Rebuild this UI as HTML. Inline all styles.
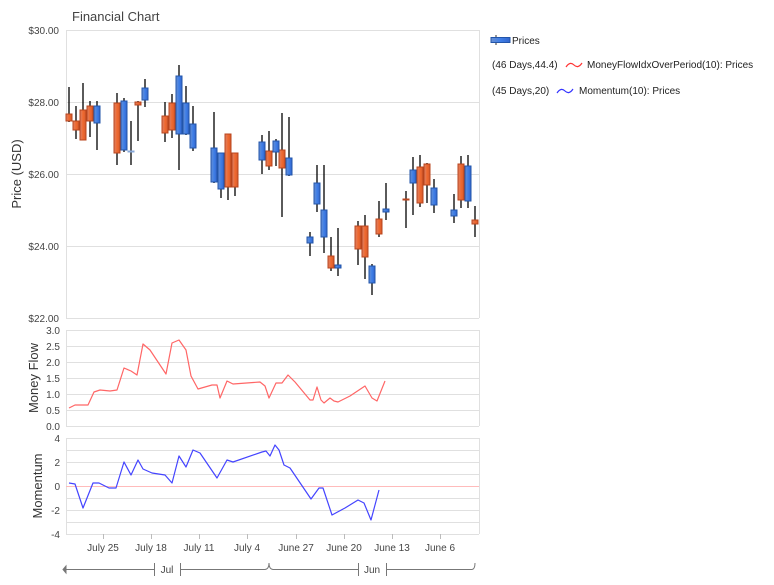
<!DOCTYPE html>
<html><head><meta charset="utf-8"><style>
body{margin:0;background:#fff;}
svg{display:block;font-family:"Liberation Sans",Arial,sans-serif;}
</style></head><body>
<svg width="774" height="585" viewBox="0 0 774 585" xmlns="http://www.w3.org/2000/svg">
<defs>
<linearGradient id="gr" x1="0" x2="1"><stop offset="0" stop-color="#d9826a"/><stop offset="0.5" stop-color="#f06a30"/><stop offset="1" stop-color="#d65a2c"/></linearGradient>
<linearGradient id="gb" x1="0" x2="1"><stop offset="0" stop-color="#6a8fd0"/><stop offset="0.5" stop-color="#3f7fe8"/><stop offset="1" stop-color="#3366cc"/></linearGradient>
</defs>
<text x="72" y="21" font-size="13" fill="#444">Financial Chart</text>
<g stroke="#e0e0e0" stroke-width="1">
<line x1="66" y1="30.5" x2="479" y2="30.5"/><line x1="66" y1="102.5" x2="479" y2="102.5"/><line x1="66" y1="174.5" x2="479" y2="174.5"/><line x1="66" y1="246.5" x2="479" y2="246.5"/><line x1="66" y1="318.5" x2="479" y2="318.5"/>
<line x1="66.5" y1="30" x2="66.5" y2="318"/><line x1="479.5" y1="30" x2="479.5" y2="318"/>
</g>
<g font-size="10" fill="#444" text-anchor="end">
<text x="59" y="34">$30.00</text><text x="59" y="106">$28.00</text><text x="59" y="178">$26.00</text><text x="59" y="250">$24.00</text><text x="59" y="322">$22.00</text>
</g>
<text transform="translate(21,174) rotate(-90)" font-size="13" fill="#333" text-anchor="middle">Price (USD)</text>
<g stroke="#000" stroke-width="1.3">
<line x1="69" y1="87" x2="69" y2="122"/><line x1="76" y1="106" x2="76" y2="139"/><line x1="83" y1="83" x2="83" y2="140"/><line x1="90" y1="101" x2="90" y2="137"/><line x1="97" y1="101" x2="97" y2="150"/>
<line x1="117" y1="93" x2="117" y2="165"/><line x1="124" y1="98" x2="124" y2="152"/><line x1="131" y1="121" x2="131" y2="165"/><line x1="138" y1="101" x2="138" y2="141"/><line x1="145" y1="79" x2="145" y2="107"/>
<line x1="165" y1="102" x2="165" y2="142"/><line x1="172" y1="94" x2="172" y2="138"/><line x1="179" y1="65" x2="179" y2="170"/><line x1="186" y1="86" x2="186" y2="135"/><line x1="193" y1="106" x2="193" y2="151"/>
<line x1="214" y1="112" x2="214" y2="183"/><line x1="221" y1="161" x2="221" y2="198"/><line x1="228" y1="134" x2="228" y2="200"/><line x1="235" y1="170" x2="235" y2="196"/>
<line x1="262" y1="135" x2="262" y2="174"/><line x1="269" y1="131" x2="269" y2="170"/><line x1="276" y1="139" x2="276" y2="166"/><line x1="282" y1="113" x2="282" y2="217"/><line x1="289" y1="117" x2="289" y2="176"/>
<line x1="310" y1="232" x2="310" y2="256"/><line x1="317" y1="165" x2="317" y2="212"/><line x1="324" y1="165" x2="324" y2="253"/><line x1="331" y1="237" x2="331" y2="271"/><line x1="338" y1="228" x2="338" y2="276"/>
<line x1="358" y1="221" x2="358" y2="265"/><line x1="365" y1="215" x2="365" y2="279"/><line x1="372" y1="264" x2="372" y2="295"/><line x1="379" y1="201" x2="379" y2="237"/><line x1="386" y1="183" x2="386" y2="220"/>
<line x1="406" y1="191" x2="406" y2="228"/><line x1="413" y1="157" x2="413" y2="215"/><line x1="420" y1="155" x2="420" y2="207"/><line x1="427" y1="163" x2="427" y2="203"/><line x1="434" y1="179" x2="434" y2="213"/>
<line x1="454" y1="194" x2="454" y2="223"/><line x1="461" y1="156" x2="461" y2="208"/><line x1="468" y1="155" x2="468" y2="208"/><line x1="475" y1="206" x2="475" y2="237"/>
</g>
<g fill="url(#gr)" stroke="#b8441c" stroke-width="1">
<rect x="66" y="114" width="6" height="7"/><rect x="73" y="121" width="6" height="9"/><rect x="80" y="110" width="6" height="30"/><rect x="87" y="106" width="6" height="15"/>
<rect x="114" y="103" width="6" height="50"/><rect x="135" y="102" width="6" height="3"/>
<rect x="162" y="116" width="6" height="17"/><rect x="169" y="103" width="6" height="27"/>
<rect x="225" y="134" width="6" height="53"/><rect x="232" y="153" width="6" height="34"/>
<rect x="266" y="151" width="6" height="15"/><rect x="279" y="150" width="6" height="18"/>
<rect x="328" y="256" width="6" height="12"/>
<rect x="355" y="226" width="6" height="23"/><rect x="362" y="226" width="6" height="31"/><rect x="376" y="219" width="6" height="15"/>
<rect x="403" y="199" width="6" height="1"/><rect x="417" y="167" width="6" height="36"/><rect x="424" y="164" width="6" height="21"/>
<rect x="458" y="164" width="6" height="36"/><rect x="472" y="220" width="6" height="4"/>
</g>
<g fill="url(#gb)" stroke="#2255aa" stroke-width="1">
<rect x="94" y="106" width="6" height="17"/><rect x="121" y="101" width="6" height="49"/><rect x="128" y="151" width="6" height="1" stroke="#88a8d8"/><rect x="142" y="88" width="6" height="12"/>
<rect x="176" y="76" width="6" height="58"/><rect x="183" y="103" width="6" height="31"/><rect x="190" y="124" width="6" height="24"/>
<rect x="211" y="148" width="6" height="34"/><rect x="218" y="153" width="6" height="36"/>
<rect x="259" y="142" width="6" height="18"/><rect x="273" y="141" width="6" height="11"/><rect x="286" y="158" width="6" height="17"/>
<rect x="307" y="237" width="6" height="6"/><rect x="314" y="183" width="6" height="21"/><rect x="321" y="210" width="6" height="27"/><rect x="335" y="265" width="6" height="3"/>
<rect x="369" y="266" width="6" height="17"/><rect x="383" y="209" width="6" height="3"/>
<rect x="410" y="170" width="6" height="13"/><rect x="431" y="188" width="6" height="17"/>
<rect x="451" y="210" width="6" height="6"/><rect x="465" y="166" width="6" height="35"/>
</g>
<g stroke="#e0e0e0">
<line x1="66" y1="330.5" x2="479" y2="330.5"/><line x1="66" y1="346.5" x2="479" y2="346.5"/><line x1="66" y1="362.5" x2="479" y2="362.5"/><line x1="66" y1="378.5" x2="479" y2="378.5"/><line x1="66" y1="394.5" x2="479" y2="394.5"/><line x1="66" y1="410.5" x2="479" y2="410.5"/><line x1="66" y1="426.5" x2="479" y2="426.5"/>
<line x1="66.5" y1="330" x2="66.5" y2="426"/><line x1="479.5" y1="330" x2="479.5" y2="426"/>
</g>
<g font-size="10" fill="#444" text-anchor="end">
<text x="60" y="334">3.0</text><text x="60" y="350">2.5</text><text x="60" y="366">2.0</text><text x="60" y="382">1.5</text><text x="60" y="398">1.0</text><text x="60" y="414">0.5</text><text x="60" y="430">0.0</text>
</g>
<text transform="translate(38,378) rotate(-90)" font-size="13" fill="#333" text-anchor="middle">Money Flow</text>
<polyline fill="none" stroke="#ff6666" stroke-width="1.2" stroke-linejoin="round" points="69,408 75,405 88,405 94,392 100,390 110,391 117,390 124,368 131,371 137,375 143,344 150,350 166,374 172,343 179,340 186,350 191,376 198,389 212,385 217,385 220,398 227,381 233,384 260,382 265,386 269,398 276,383 282,383 288,375 295,382 310,400 313,400 317,387 321,400 324,403 330,398 334,401 338,402 350,396 365,386 372,398 377,401 385,381"/>
<g stroke="#e0e0e0">
<line x1="66" y1="438.5" x2="479" y2="438.5"/><line x1="66" y1="450.5" x2="479" y2="450.5"/><line x1="66" y1="462.5" x2="479" y2="462.5"/><line x1="66" y1="474.5" x2="479" y2="474.5"/><line x1="66" y1="498.5" x2="479" y2="498.5"/><line x1="66" y1="510.5" x2="479" y2="510.5"/><line x1="66" y1="522.5" x2="479" y2="522.5"/><line x1="66" y1="534.5" x2="479" y2="534.5"/>
<line x1="66.5" y1="438" x2="66.5" y2="534"/><line x1="479.5" y1="438" x2="479.5" y2="534"/>
</g>
<line x1="66" y1="486.5" x2="479" y2="486.5" stroke="#ffbbbb"/>
<g font-size="10" fill="#444" text-anchor="end">
<text x="60" y="442">4</text><text x="60" y="466">2</text><text x="60" y="490">0</text><text x="60" y="514">-2</text><text x="60" y="538">-4</text>
</g>
<text transform="translate(42,486) rotate(-90)" font-size="13" fill="#333" text-anchor="middle">Momentum</text>
<polyline fill="none" stroke="#4444ff" stroke-width="1.2" stroke-linejoin="round" points="69,483 75,484 83,508 93,483 99,483 109,488 116,488 124,462 131,475 138,460 143,469 152,473 165,475 172,483 179,456 186,467 193,450 200,453 217,478 227,460 233,462 262,452 266,451 270,456 275,445 279,450 284,465 290,468 311,499 319,488 323,488 332,515 345,508 358,500 364,503 371,520 379,490"/>
<g stroke="#bbb">
<line x1="103.5" y1="534" x2="103.5" y2="539"/><line x1="151.5" y1="534" x2="151.5" y2="539"/><line x1="199.5" y1="534" x2="199.5" y2="539"/><line x1="247.5" y1="534" x2="247.5" y2="539"/><line x1="296.5" y1="534" x2="296.5" y2="539"/><line x1="344.5" y1="534" x2="344.5" y2="539"/><line x1="392.5" y1="534" x2="392.5" y2="539"/><line x1="440.5" y1="534" x2="440.5" y2="539"/>
</g>
<g font-size="10" fill="#444" text-anchor="middle">
<text x="103" y="551">July 25</text><text x="151" y="551">July 18</text><text x="199" y="551">July 11</text><text x="247" y="551">July 4</text><text x="296" y="551">June 27</text><text x="344" y="551">June 20</text><text x="392" y="551">June 13</text><text x="440" y="551">June 6</text>
</g>
<g stroke="#777" fill="none">
<line x1="66" y1="569.5" x2="155" y2="569.5"/><path d="M66,566 L63,569.5 L66,573Z" fill="#777"/>
<line x1="154.5" y1="563" x2="154.5" y2="576"/><line x1="180.5" y1="563" x2="180.5" y2="576"/>
<path d="M180,569.5 L265,569.5 Q269,569 269,563 Q269,569 273,569.5 L358,569.5"/>
<line x1="358.5" y1="563" x2="358.5" y2="576"/><line x1="386.5" y1="563" x2="386.5" y2="576"/>
<path d="M386,569.5 L472,569.5 Q475,569 475,563"/>
</g>
<g font-size="10" fill="#444" text-anchor="middle"><text x="167" y="573">Jul</text><text x="372" y="573">Jun</text></g>
<g font-size="10" fill="#222">
<line x1="496" y1="35" x2="496" y2="45" stroke="#333"/>
<rect x="491" y="37.5" width="19" height="5" fill="url(#gb)" stroke="#2255aa"/>
<text x="512" y="44">Prices</text>
<text x="492" y="68">(46 Days,44.4)</text>
<path d="M566,67 q4,-6 8,-2 t8,-2" stroke="#ff3333" fill="none" stroke-width="1.2"/>
<text x="587" y="68">MoneyFlowIdxOverPeriod(10): Prices</text>
<text x="492" y="94">(45 Days,20)</text>
<path d="M557,93 q4,-6 8,-2 t8,-2" stroke="#3333ff" fill="none" stroke-width="1.2"/>
<text x="579" y="94">Momentum(10): Prices</text>
</g>
</svg>
</body></html>
